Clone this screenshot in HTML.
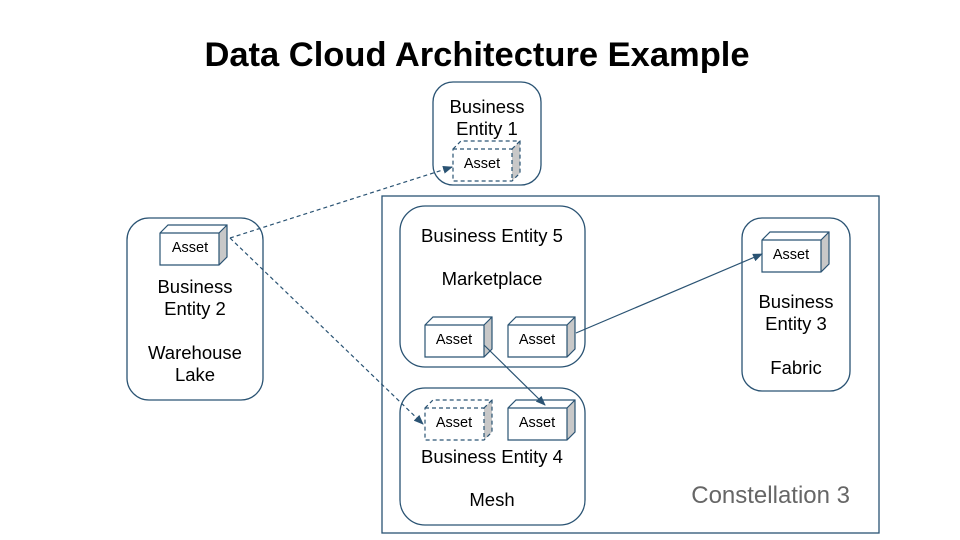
<!DOCTYPE html>
<html><head><style>body{margin:0;background:#fff}svg{display:block}text{font-family:"Liberation Sans",Arial,sans-serif;fill:#000}</style></head>
<body>
<svg width="960" height="540" viewBox="0 0 960 540">
<defs>
<marker id="ah" markerWidth="10" markerHeight="8" refX="9" refY="4" orient="auto" markerUnits="userSpaceOnUse"><path d="M0,0 L10,4 L0,8 Z" fill="#2a5373"/></marker>
<g id="cube" stroke="none"><path d="M0,0 L8,-8 L67,-8 L59,0 Z" fill="#fff"/><path d="M59,0 L67,-8 L67,24 L59,32 Z" fill="#c8c8c8"/><rect x="0" y="0" width="59" height="32" fill="#fff"/></g>
</defs>
<text x="477" y="66" text-anchor="middle" font-size="34.5" font-weight="bold">Data Cloud Architecture Example</text>
<g fill="none" stroke="#2a5373" stroke-width="1.3">
<rect x="433" y="82" width="108" height="103" rx="20"/>
<rect x="382" y="196" width="497" height="337"/>
<rect x="400" y="206" width="185" height="161" rx="25"/>
<rect x="400" y="388" width="185" height="137" rx="25"/>
<rect x="127" y="218" width="136" height="182" rx="22"/>
<rect x="742" y="218" width="108" height="173" rx="20"/>
</g>
<g stroke="#2a5373" stroke-width="1.2">
<g transform="translate(453,149)"><use href="#cube"/><path d="M0,0 L8,-8 L67,-8 L67,24 L59,32 L0,32 Z M59,0 L67,-8 M0,0 L59,0 L59,32" fill="none" stroke-dasharray="4,3"/></g>
<g transform="translate(160,233)"><use href="#cube"/><path d="M0,0 L8,-8 L67,-8 L67,24 L59,32 L0,32 Z M59,0 L67,-8 M0,0 L59,0 L59,32" fill="none"/></g>
<g transform="translate(425,325)"><use href="#cube"/><path d="M0,0 L8,-8 L67,-8 L67,24 L59,32 L0,32 Z M59,0 L67,-8 M0,0 L59,0 L59,32" fill="none"/></g>
<g transform="translate(508,325)"><use href="#cube"/><path d="M0,0 L8,-8 L67,-8 L67,24 L59,32 L0,32 Z M59,0 L67,-8 M0,0 L59,0 L59,32" fill="none"/></g>
<g transform="translate(425,408)"><use href="#cube"/><path d="M0,0 L8,-8 L67,-8 L67,24 L59,32 L0,32 Z M59,0 L67,-8 M0,0 L59,0 L59,32" fill="none" stroke-dasharray="4,3"/></g>
<g transform="translate(508,408)"><use href="#cube"/><path d="M0,0 L8,-8 L67,-8 L67,24 L59,32 L0,32 Z M59,0 L67,-8 M0,0 L59,0 L59,32" fill="none"/></g>
<g transform="translate(762,240)"><use href="#cube"/><path d="M0,0 L8,-8 L67,-8 L67,24 L59,32 L0,32 Z M59,0 L67,-8 M0,0 L59,0 L59,32" fill="none"/></g>
</g>
<g stroke="#2a5373" stroke-width="1.2" fill="none">
<line x1="230" y1="238" x2="452" y2="167" stroke-dasharray="4,3" marker-end="url(#ah)"/>
<line x1="230" y1="238" x2="423" y2="424" stroke-dasharray="4,3" marker-end="url(#ah)"/>
<line x1="484" y1="345" x2="545" y2="405" marker-end="url(#ah)"/>
<line x1="576" y1="333" x2="762" y2="254" marker-end="url(#ah)"/>
</g>
<g font-size="14.5" text-anchor="middle">
<text x="482" y="168">Asset</text>
<text x="190" y="252">Asset</text>
<text x="454" y="344">Asset</text>
<text x="537" y="344">Asset</text>
<text x="454" y="427">Asset</text>
<text x="537" y="427">Asset</text>
<text x="791" y="259">Asset</text>
</g>
<g font-size="18.5" text-anchor="middle">
<text x="487" y="113">Business</text><text x="487" y="135">Entity 1</text>
<text x="195" y="293">Business</text><text x="195" y="315">Entity 2</text>
<text x="195" y="359">Warehouse</text><text x="195" y="381">Lake</text>
<text x="492" y="242">Business Entity 5</text>
<text x="492" y="285">Marketplace</text>
<text x="492" y="463">Business Entity 4</text>
<text x="492" y="506">Mesh</text>
<text x="796" y="308">Business</text><text x="796" y="330">Entity 3</text>
<text x="796" y="374">Fabric</text>
</g>
<text x="850" y="503" font-size="24" text-anchor="end" style="fill:#666">Constellation 3</text>
</svg>
</body></html>
